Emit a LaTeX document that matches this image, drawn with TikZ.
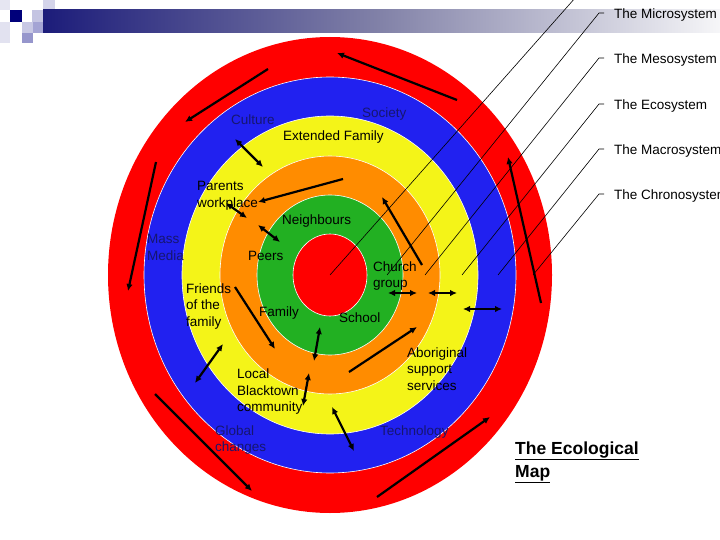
\documentclass[tikz,border=0pt]{standalone}
\usepackage{fontspec}
\setmainfont{Liberation Sans}
\usetikzlibrary{arrows.meta}
\definecolor{ringred}{HTML}{FF0000}
\definecolor{ringblue}{HTML}{2121F0}
\definecolor{ringyellow}{HTML}{F4F418}
\definecolor{ringorange}{HTML}{FF8C00}
\definecolor{ringgreen}{HTML}{22B022}
\definecolor{navytext}{HTML}{161670}
\definecolor{bardark}{HTML}{1C1C7A}
\definecolor{barlight}{HTML}{F6F6F8}
\begin{document}
\begin{tikzpicture}[x=1pt,y=-1pt,
  ring/.style={draw=white, line width=0.6pt},
  lbl/.style={font=\fontsize{13.5}{16.5}\selectfont, inner sep=0pt, anchor=west, align=left, yshift=-2pt},
  navy/.style={lbl, text=navytext},
  sidelbl/.style={font=\fontsize{13.5}{16.5}\selectfont, inner sep=0pt, anchor=west, yshift=-2pt},
  leader/.style={line width=0.6pt, black},
  arr/.style={line width=2.2pt, -{Latex[length=7pt,width=6.5pt]}},
  darr/.style={line width=2.2pt, {Latex[length=7pt,width=6.5pt]}-{Latex[length=7pt,width=6.5pt]}}
]
\clip (0,0) rectangle (720,540);
\fill[white] (0,0) rectangle (720,540);

% header decoration
\fill[fill={rgb,255:red,230;green,230;blue,242}] (0,0) rectangle (10,10);
\fill[fill={rgb,255:red,226;green,226;blue,240}] (0,22) rectangle (10,43);
\fill[fill={rgb,255:red,0;green,0;blue,122}] (10,10) rectangle (22,22);
\fill[fill={rgb,255:red,196;green,196;blue,226}] (32,10) rectangle (43,22);
\fill[fill={rgb,255:red,212;green,212;blue,234}] (43,0) rectangle (55,10);
\fill[fill={rgb,255:red,200;green,200;blue,228}] (22,22) rectangle (33,33);
\fill[fill={rgb,255:red,164;green,164;blue,212}] (33,22) rectangle (43,33);
\fill[fill={rgb,255:red,150;green,150;blue,204}] (22,33) rectangle (33,43);
\shade[left color=bardark, right color=barlight, middle color={rgb,255:red,130;green,130;blue,168}] (43,10) rectangle (720,33);

% rings
\coordinate (ctr) at (330,275);
\fill[ringred] (ctr) ellipse (222pt and 238pt);
\filldraw[ring, fill=ringblue] (ctr) ellipse (186pt and 198pt);
\filldraw[ring, fill=ringyellow] (ctr) ellipse (148pt and 159pt);
\filldraw[ring, fill=ringorange] (ctr) ellipse (110pt and 119pt);
\filldraw[ring, fill=ringgreen] (ctr) ellipse (73pt and 80pt);
\filldraw[ring, fill=ringred] (ctr) ellipse (37pt and 41pt);

% side labels and leader lines
\coordinate (t1) at (604,13);
\coordinate (t2) at (604,58);
\coordinate (t3) at (604,104);
\coordinate (t4) at (604,149);
\coordinate (t5) at (604,194);
\node[sidelbl] (micro) at (614,13) {The Microsystem};
\node[sidelbl] (meso) at (614,58) {The Mesosystem};
\node[sidelbl] (eco) at (614,104) {The Ecosystem};
\node[sidelbl] (macro) at (614,149) {The Macrosystem};
\node[sidelbl] (chrono) at (614,194) {The Chronosystem};
\coordinate (l0s) at (591,-20); \coordinate (l0e) at (330,275);
\coordinate (l1e) at (387,275);
\coordinate (l2e) at (425,275);
\coordinate (l3e) at (462,275);
\coordinate (l4e) at (498,275);
\coordinate (l5e) at (533,275);
\draw[leader] (l0s) -- (l0e);
\draw[leader] (t1) -- ++(-5,0) -- (l1e);
\draw[leader] (t2) -- ++(-5,0) -- (l2e);
\draw[leader] (t3) -- ++(-5,0) -- (l3e);
\draw[leader] (t4) -- ++(-5,0) -- (l4e);
\draw[leader] (t5) -- ++(-5,0) -- (l5e);

% ring labels
\node[navy] (culture) at (231,118) {Culture};
\node[navy] (society) at (362,112) {Society};
\node[lbl] (extfam) at (283,135) {Extended Family};
\node[lbl] (parents) at (197,194) {Parents\\workplace};
\node[lbl] (neigh) at (282,219) {Neighbours};
\node[navy] (mass) at (147,245.5) {Mass\\Media};
\node[lbl] (peers) at (248,254) {Peers};
\node[lbl] (church) at (373,274) {Church\\group};
\node[lbl] (friends) at (186,304.5) {Friends\\of the\\family};
\node[lbl] (family) at (259,311) {Family};
\node[lbl] (school) at (339,316) {School};
\node[lbl] (abor) at (407,367) {Aboriginal\\support\\services};
\node[lbl] (local) at (237,390) {Local\\Blacktown\\community};
\node[navy] (global) at (215,438) {Global\\changes};
\node[navy] (tech) at (380,430) {Technology};

% arrows
\coordinate (a1s) at (457,100); \coordinate (a1e) at (337,53);
\coordinate (a2s) at (268,69); \coordinate (a2e) at (185,122);
\coordinate (a3s) at (156,162); \coordinate (a3e) at (128,291);
\coordinate (a4s) at (155,394); \coordinate (a4e) at (252,491);
\coordinate (a5s) at (377,497); \coordinate (a5e) at (490,417);
\coordinate (a6s) at (541,303); \coordinate (a6e) at (508,157);
\coordinate (a7s) at (235,139); \coordinate (a7e) at (263,167);
\coordinate (a8s) at (343,179); \coordinate (a8e) at (258,202);
\coordinate (a9s) at (226,203); \coordinate (a9e) at (247,218);
\coordinate (a10s) at (258,225); \coordinate (a10e) at (280,242);
\coordinate (a11s) at (422,265); \coordinate (a11e) at (382,197);
\coordinate (a12s) at (388,293); \coordinate (a12e) at (417,293);
\coordinate (a13s) at (428,293); \coordinate (a13e) at (457,293);
\coordinate (a14s) at (463,309); \coordinate (a14e) at (502,309);
\coordinate (a15s) at (235,287); \coordinate (a15e) at (275,349);
\coordinate (a16s) at (223,344); \coordinate (a16e) at (195,383);
\coordinate (a17s) at (320,327); \coordinate (a17e) at (314,361);
\coordinate (a18s) at (309,373); \coordinate (a18e) at (303,406);
\coordinate (a19s) at (349,372); \coordinate (a19e) at (417,327);
\coordinate (a20s) at (332,407); \coordinate (a20e) at (354,451);
\draw[arr] (a1s) -- (a1e);
\draw[arr] (a2s) -- (a2e);
\draw[arr] (a3s) -- (a3e);
\draw[arr] (a4s) -- (a4e);
\draw[arr] (a5s) -- (a5e);
\draw[arr] (a6s) -- (a6e);
\draw[darr] (a7s) -- (a7e);
\draw[arr] (a8s) -- (a8e);
\draw[darr] (a9s) -- (a9e);
\draw[darr] (a10s) -- (a10e);
\draw[arr] (a11s) -- (a11e);
\draw[darr] (a12s) -- (a12e);
\draw[darr] (a13s) -- (a13e);
\draw[darr] (a14s) -- (a14e);
\draw[arr] (a15s) -- (a15e);
\draw[darr] (a16s) -- (a16e);
\draw[darr] (a17s) -- (a17e);
\draw[darr] (a18s) -- (a18e);
\draw[arr] (a19s) -- (a19e);
\draw[darr] (a20s) -- (a20e);

% title
\node[font=\bfseries\fontsize{17.5}{23}\selectfont, inner sep=0pt, anchor=west, align=left] (title) at (515,462) {\underline{The Ecological}\\\underline{Map}};
\end{tikzpicture}
\end{document}
